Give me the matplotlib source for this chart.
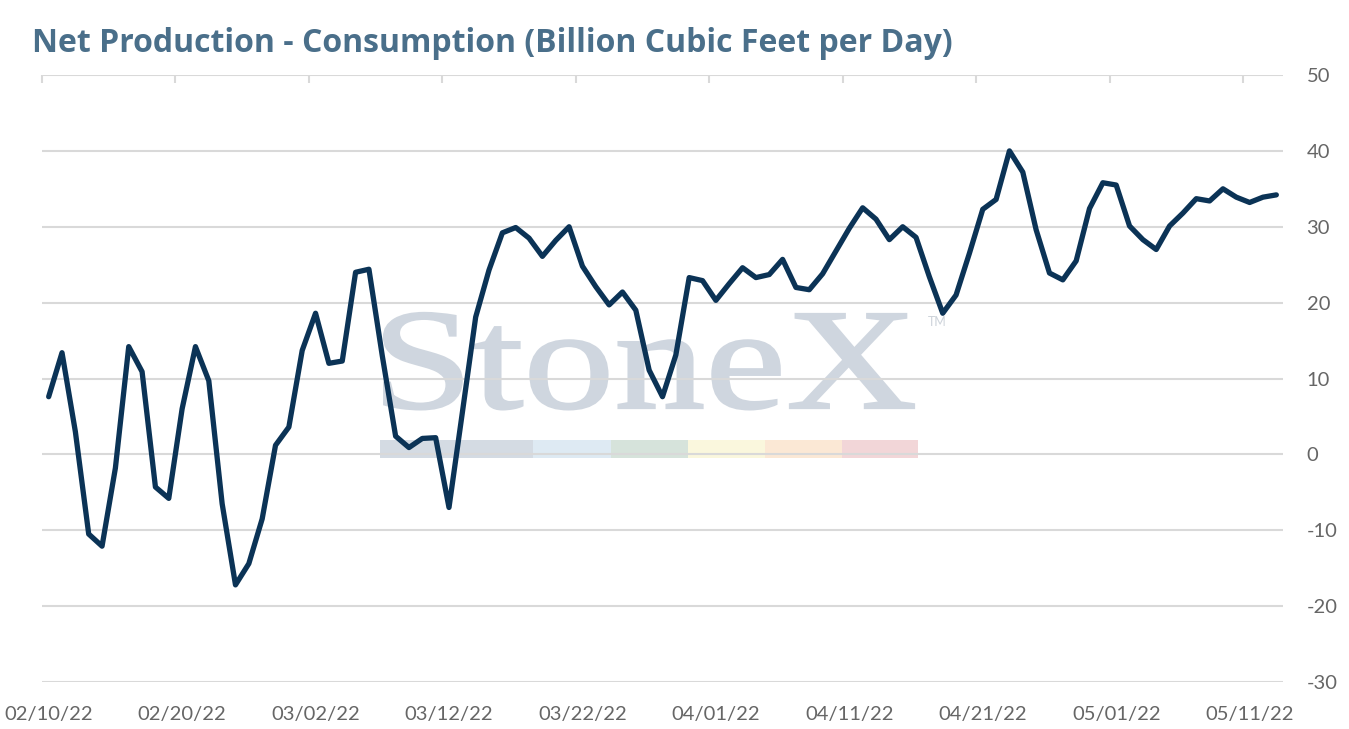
import matplotlib
matplotlib.use("Agg")
import matplotlib.pyplot as plt
import pandas as pd
import numpy as np
from matplotlib.textpath import TextPath
from matplotlib.patches import PathPatch, Rectangle
from matplotlib.font_manager import FontProperties
from matplotlib.transforms import Affine2D

plt.rcParams["axes.unicode_minus"] = False

# ---------------- data ----------------
dates = pd.date_range("2022-02-10", "2022-05-13", freq="D")
date_labels = [d.strftime("%m/%d/%y") for d in dates]

net_values = [
    7.6, 13.4, 3.0, -10.5, -12.1, -1.8, 14.2, 10.9, -4.3, -5.8,
    6.0, 14.2, 9.7, -6.5, -17.2, -14.4, -8.5, 1.2, 3.6, 13.7,
    18.6, 12.0, 12.3, 24.0, 24.4, 13.0, 2.4, 0.9, 2.1, 2.2,
    -7.0, 5.5, 18.1, 24.3, 29.2, 29.9, 28.5, 26.1, 28.2, 30.0,
    24.8, 22.1, 19.7, 21.4, 19.0, 11.1, 7.6, 13.1, 23.3, 22.9,
    20.3, 22.5, 24.6, 23.3, 23.7, 25.7, 22.0, 21.7, 23.8, 26.8,
    29.8, 32.5, 31.0, 28.3, 30.0, 28.6, 23.4, 18.6, 21.0, 26.5,
    32.3, 33.6, 40.0, 37.2, 29.6, 23.9, 23.0, 25.5, 32.4, 35.8,
    35.5, 30.1, 28.3, 27.0, 30.1, 31.8, 33.7, 33.4, 35.0, 33.9,
    33.2, 33.9, 34.2,
]

y_ticks = [-30, -20, -10, 0, 10, 20, 30, 40, 50]
title = "Net Production - Consumption (Billion Cubic Feet per Day)"

# ---------------- figure ----------------
W, H = 1349, 729
fig = plt.figure(figsize=(W / 100, H / 100), dpi=100)
ax = fig.add_axes([42 / W, 1 - 682 / H, (1283 - 42) / W, (682 - 75) / H])

x = np.arange(len(net_values))
ax.plot(x, net_values, color="#0b3356", lw=3.8, solid_joinstyle="round",
        solid_capstyle="round", zorder=4)

ax.set_xlim(-0.5, len(net_values) - 0.5)
ax.set_ylim(-30, 50)

# x ticks: labels every 10 categories, small marks at category boundaries on top
label_pos = list(range(0, len(net_values), 10))
ax.set_xticks(label_pos)
ax.set_xticklabels([date_labels[i] for i in label_pos])
ax.set_xticks([p - 0.5 for p in label_pos], minor=True)
ax.tick_params(axis="x", which="major", length=0, pad=17, labelsize=14.5,
               labelcolor="#666666")
ax.tick_params(axis="x", which="minor", top=True, bottom=False, direction="in",
               length=6, width=1.5, color="#d9d9d9")

ax.yaxis.tick_right()
ax.set_yticks(y_ticks)
ax.tick_params(axis="y", length=0, pad=17, labelsize=14.5, labelcolor="#666666")
for lab in ax.get_xticklabels() + ax.get_yticklabels():
    lab.set_fontfamily("Lato")

ax.grid(axis="y", color="#d9d9d9", lw=1.5, zorder=3)
ax.set_axisbelow(False)
for s in ax.spines.values():
    s.set_visible(False)

# ---------------- watermark ----------------
fp = FontProperties(family="Liberation Serif")
tp = TextPath((0, 0), "StoneX", prop=fp, size=100)
ext = tp.get_extents()
tx0, tx1 = 384, 914      # pixel span
base_y, cap_top = 408, 314
capH = TextPath((0, 0), "X", prop=fp, size=100).get_extents().y1
sx = (tx1 - tx0) / ext.width / W
sy = (base_y - cap_top) / capH / H
trans = Affine2D().translate(-ext.x0, 0).scale(sx, sy).translate(tx0 / W, 1 - base_y / H) + fig.transFigure
fig.patches.append(PathPatch(tp, transform=trans, facecolor="#cfd6df",
                             edgecolor="#cfd6df", lw=1.6, zorder=1))
fig.text(928 / W, 1 - 326 / H, "TM", fontsize=9, color="#cdd3da",
         family="Lato", zorder=1)

bar_edges = [380, 533, 611, 688, 765, 842, 918]
bar_colors = ["#d4dbe3", "#deeaf3", "#d6e3db", "#faf7dd", "#fbe8d5", "#f2d6d8"]
for i, c in enumerate(bar_colors):
    fig.patches.append(Rectangle((bar_edges[i] / W, 1 - 458 / H),
                                 (bar_edges[i + 1] - bar_edges[i]) / W, 18 / H,
                                 transform=fig.transFigure, facecolor=c,
                                 edgecolor="none", zorder=1))

ax.patch.set_alpha(0)
ax.set_zorder(2)

fig.text(32 / W, 1 - 52 / H, title, fontsize=23, fontweight="bold",
         color="#4a6f8a", family="Open Sans", va="baseline")

fig.savefig("out.png", dpi=100, facecolor="white")
